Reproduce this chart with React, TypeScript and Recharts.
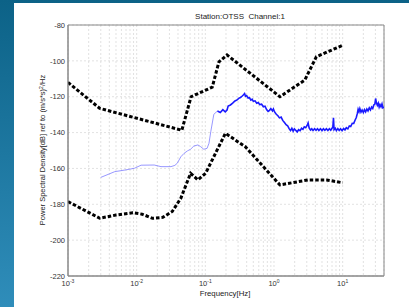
import React from 'react';
import { LineChart, Line, XAxis, YAxis, CartesianGrid, ReferenceArea } from 'recharts';

const upperFreq = [0.001, 0.0029, 0.0455, 0.062, 0.126, 0.158, 0.207, 1.22, 2.81, 4.14, 10];
const upperDb = [-112, -126.5, -138.7, -120, -114.7, -100.5, -96.7, -120, -110.7, -97.7, -91.3];

const lowerFreq = [0.001, 0.0029, 0.005, 0.0088, 0.012, 0.017, 0.024, 0.033, 0.044, 0.061, 0.078, 0.101, 0.196, 0.382, 1.22, 3.14, 5.8, 10];
const lowerDb = [-178.5, -187.8, -186, -184.7, -185.5, -187.8, -187.3, -184, -176.6, -162.7, -166.4, -162.7, -140.4, -147.9, -169.2, -166.4, -166.4, -168];

const psdLowFreq = [0.003, 0.0048, 0.007, 0.0093, 0.0116, 0.018, 0.0226, 0.0316, 0.036, 0.039, 0.044, 0.049, 0.055, 0.061, 0.068, 0.078, 0.085, 0.095, 0.106, 0.113, 0.12, 0.133, 0.15];
const psdLowDb = [-165.0, -161.8, -160.8, -159.9, -158.2, -158.1, -159.0, -159.0, -158.3, -157.1, -153.5, -151.6, -150.2, -149.3, -147.5, -146.9, -147.8, -149.3, -148.8, -146.0, -139.5, -129.8, -128.0];

const psdHighFreq = [0.15, 0.165, 0.18, 0.195, 0.207, 0.215, 0.232, 0.25, 0.27, 0.29, 0.306, 0.325, 0.345, 0.36, 0.373, 0.385, 0.40, 0.42, 0.44, 0.46, 0.48, 0.50, 0.53, 0.56, 0.59, 0.62, 0.66, 0.70, 0.74, 0.78, 0.82, 0.86, 0.90, 0.95, 0.98, 1.02, 1.08, 1.14, 1.2, 1.27, 1.34, 1.42, 1.5, 1.58, 1.66, 1.74, 1.82, 1.9, 1.98, 2.08, 2.18, 2.28, 2.4, 2.52, 2.64, 2.76, 2.9, 3.02, 3.14, 3.25, 3.4, 3.55, 3.7, 3.9, 4.1, 4.3, 4.5, 4.75, 5.0, 5.25, 5.5, 5.8, 6.1, 6.4, 6.7, 7.0, 7.2, 7.35, 7.5, 7.8, 8.1, 8.5, 8.9, 9.3, 9.8, 10.3, 10.8, 11.3, 11.9, 12.5, 13.1, 13.8, 14.5, 15.2, 15.8, 16.3, 16.8, 17.3, 17.8, 18.5, 19.2, 20.0, 20.8, 21.6, 22.5, 23.4, 24.4, 25.4, 26.4, 27.4, 28.4, 29.4, 30.2, 31.0, 32.0, 33.0, 34.0, 35.0, 36.2, 37.4, 38.6, 40];
const psdHighDb = [-128.0, -128.8, -127.2, -128.4, -127.4, -125.2, -124.6, -123.6, -122.4, -121.8, -120.9, -120.5, -119.6, -118.9, -118.2, -119.8, -119.4, -120.8, -120.6, -121.9, -121.4, -122.6, -122.3, -123.6, -123.2, -124.4, -124.2, -125.6, -125.3, -127.2, -128.2, -127.6, -126.6, -127.9, -126.8, -128.5, -129.8, -130.6, -131.8, -131.4, -133.2, -134.4, -135.6, -136.2, -137.8, -138.9, -137.6, -139.2, -137.9, -138.8, -139.6, -138.4, -138.9, -137.6, -138.2, -136.8, -137.3, -136.2, -134.6, -137.4, -138.6, -137.9, -138.8, -137.8, -138.7, -137.9, -138.8, -137.8, -138.9, -137.9, -138.7, -137.8, -138.8, -137.9, -138.7, -137.6, -136.8, -131.8, -138.4, -137.6, -138.9, -137.8, -138.8, -137.9, -138.9, -137.7, -138.5, -137.3, -137.9, -136.3, -136.6, -134.8, -134.9, -133.0, -131.6, -129.6, -127.0, -128.4, -126.6, -128.6, -127.4, -128.8, -127.2, -128.4, -126.8, -127.9, -126.2, -127.4, -125.8, -126.6, -124.6, -124.2, -121.0, -123.4, -124.8, -123.6, -125.8, -124.4, -125.6, -124.0, -126.2, -125.8];

const xTicks = [
  0.001, 0.002, 0.003, 0.004, 0.005, 0.006, 0.007, 0.008, 0.009,
  0.01, 0.02, 0.03, 0.04, 0.05, 0.06, 0.07, 0.08, 0.09,
  0.1, 0.2, 0.3, 0.4, 0.5, 0.6, 0.7, 0.8, 0.9,
  1, 2, 3, 4, 5, 6, 7, 8, 9,
  10, 20, 30, 40,
];
const xLabelTicks = [0.001, 0.01, 0.1, 1, 10];
const xLabelExps = ['-3', '-2', '-1', '0', '1'];
const yTicks = [-220, -200, -180, -160, -140, -120, -100, -80];

const title = 'Station:OTSS  Channel:1';
const xTitle = 'Frequency[Hz]';

const zip = (fs: number[], ds: number[]) => fs.map((f, i) => ({ f, db: ds[i] }));
const upperData = zip(upperFreq, upperDb);
const lowerData = zip(lowerFreq, lowerDb);
const psdLowData = zip(psdLowFreq, psdLowDb);
const psdHighData = zip(psdHighFreq, psdHighDb);

const FONT = 'Arial, "Liberation Sans", Helvetica, sans-serif';

const XTick = (props: any) => {
  const { x, y, payload } = props;
  const idx = xLabelTicks.findIndex((t) => Math.abs(t - payload.value) / t < 1e-6);
  if (idx < 0) return <g />;
  return (
    <text x={x} y={y} dy={7} textAnchor="middle" fontSize={7.5} fill="#333" fontFamily={FONT}>
      <tspan>10</tspan>
      <tspan dy={-3.5} fontSize={5}>{xLabelExps[idx]}</tspan>
    </text>
  );
};

export default function App() {
  return (
    <div
      style={{
        position: 'fixed',
        left: 0,
        top: 0,
        width: 409,
        height: 307,
        background: 'linear-gradient(to bottom, #0c6287, #2f8dba)',
        overflow: 'hidden',
      }}
    >
      <div style={{ position: 'absolute', left: 14, top: 3, width: 395, height: 304, background: '#fff' }}>
        <LineChart width={395} height={304} margin={{ top: 22, right: 25, bottom: 0, left: 0 }}>
          <CartesianGrid stroke="#d6d6d6" strokeDasharray="2 2" strokeWidth={0.7} />
          <XAxis
            dataKey="f"
            type="number"
            scale="log"
            domain={[0.001, 40]}
            allowDataOverflow
            ticks={xTicks}
            interval={0}
            tick={<XTick />}
            tickLine={false}
            tickSize={3}
            tickMargin={0}
            height={31}
            axisLine={{ stroke: '#888' }}
          />
          <YAxis
            type="number"
            domain={[-220, -80]}
            ticks={yTicks}
            interval={0}
            allowDataOverflow
            tickLine={false}
            tickSize={3}
            tickMargin={0}
            width={54}
            tick={{ fontSize: 7.5, fill: '#333', fontFamily: FONT }}
            axisLine={{ stroke: '#888' }}
          />
          <ReferenceArea x1={0.001} x2={40} y1={-220} y2={-80} fill="none" stroke="#888" strokeWidth={1} />
          <Line data={psdLowData} dataKey="db" stroke="#7d7dff" strokeWidth={0.8} dot={false} isAnimationActive={false} type="linear" />
          <Line data={psdHighData} dataKey="db" stroke="#1a1aff" strokeWidth={1.6} dot={false} isAnimationActive={false} type="linear" />
          <Line data={upperData} dataKey="db" stroke="#000" strokeWidth={3} strokeDasharray="3.5 2" dot={false} isAnimationActive={false} type="linear" />
          <Line data={lowerData} dataKey="db" stroke="#000" strokeWidth={3} strokeDasharray="3.5 2" dot={false} isAnimationActive={false} type="linear" />
        </LineChart>
        <div
          style={{
            position: 'absolute',
            left: 212 - 14 - 100,
            top: 9,
            width: 256,
            textAlign: 'center',
            fontFamily: FONT,
            fontSize: 8,
            color: '#222',
            whiteSpace: 'pre',
          }}
        >
          {title}
        </div>
        <div
          style={{
            position: 'absolute',
            left: 225 - 14 - 60,
            top: 286,
            width: 120,
            textAlign: 'center',
            fontFamily: FONT,
            fontSize: 7.8,
            color: '#222',
          }}
        >
          {xTitle}
        </div>
        <div
          style={{
            position: 'absolute',
            left: 43 - 14 - 100,
            top: 150 - 3 - 6,
            width: 200,
            height: 12,
            lineHeight: '12px',
            textAlign: 'center',
            fontFamily: FONT,
            fontSize: 7.5,
            color: '#222',
            transform: 'rotate(-90deg)',
            whiteSpace: 'nowrap',
          }}
        >
          Power Spectral Density[dB] ref to (m/s*s)<sup style={{ fontSize: 5, verticalAlign: 'top', lineHeight: '8px' }}>2</sup>/Hz
        </div>
      </div>
    </div>
  );
}
